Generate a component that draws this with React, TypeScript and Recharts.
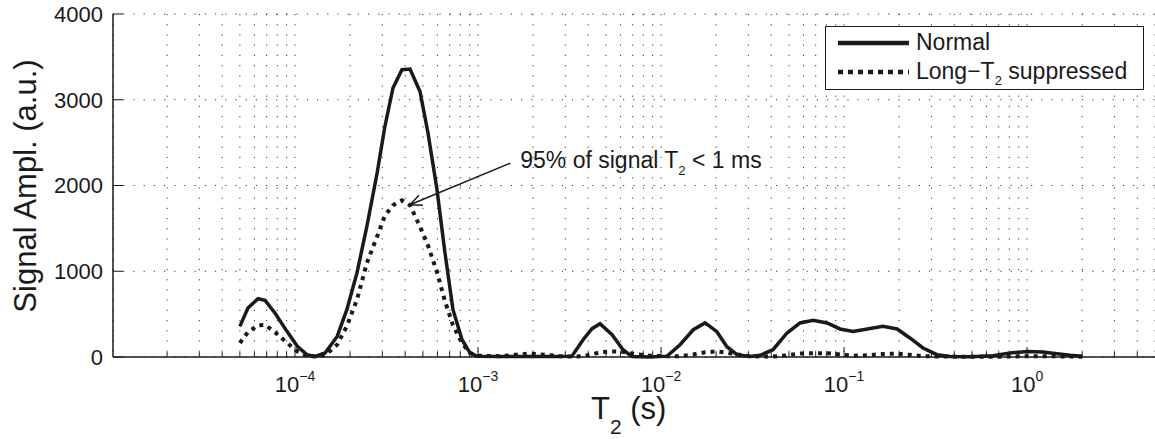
import { LineChart, Line, XAxis, YAxis, CartesianGrid, Legend, ReferenceLine, Label } from "recharts";

// T2 relaxation time (s)
const t2 = [
  5.0e-5, 5.53e-5, 6.28e-5, 6.86e-5, 7.77e-5, 9.04e-5, 1.03e-4, 1.16e-4, 1.29e-4, 1.46e-4,
  1.7e-4, 1.92e-4, 2.18e-4, 2.47e-4, 2.81e-4, 3.1e-4, 3.43e-4, 3.84e-4, 4.25e-4, 4.82e-4,
  5.33e-4, 5.97e-4, 6.6e-4, 7.3e-4, 8.18e-4, 9.04e-4, 9.87e-4, 1.32e-3, 1.92e-3, 2.81e-3,
  3.26e-3, 3.75e-3, 4.2e-3, 4.64e-3, 5.4e-3, 6.2e-3, 6.94e-3, 8.71e-3, 1.08e-2, 1.27e-2,
  1.5e-2, 1.74e-2, 2.02e-2, 2.29e-2, 2.6e-2, 3.06e-2, 3.48e-2, 4.09e-2, 4.88e-2, 5.75e-2,
  6.77e-2, 8.07e-2, 9.51e-2, 0.112, 0.134, 0.163, 0.195, 0.229, 0.27, 0.322,
  0.38, 0.488, 0.652, 0.807, 1.0, 1.22, 1.46, 1.72, 2.0,
];

const normal = [
  357, 571, 680, 660, 513, 299, 124, 27, 7, 47,
  240, 552, 980, 1523, 2146, 2690, 3137, 3350, 3358, 3097,
  2612, 1951, 1213, 552, 202, 47, 10, 5, 5, 5,
  10, 202, 330, 388, 260, 85, 5, 0, 10, 143,
  318, 397, 295, 120, 27, 5, 20, 85, 280, 397,
  427, 397, 327, 299, 327, 357, 327, 222, 105, 27,
  5, 3, 15, 47, 65, 58, 39, 20, 10,
];

const suppressed = [
  163, 290, 370, 375, 290, 165, 65, 15, 5, 20,
  143, 360, 668, 1096, 1406, 1650, 1770, 1826, 1770, 1520,
  1300, 990, 650, 370, 160, 47, 15, 10, 40, 10,
  5, 10, 30, 55, 65, 60, 40, 15, 10, 10,
  30, 55, 65, 50, 30, 10, 5, 5, 20, 40,
  45, 45, 30, 15, 20, 35, 40, 25, 10, 5,
  5, 3, 3, 5, 10, 10, 8, 5, 3,
];

const yTicks = [0, 1000, 2000, 3000, 4000];
const xDomain = [1.013e-5, 5.0];
const xTicks: number[] = [];
for (let e = -5; e <= 0; e++) {
  for (let m = 1; m <= 9; m++) {
    const v = m * Math.pow(10, e);
    if (v > xDomain[0] && v < xDomain[1]) xTicks.push(Number(v.toPrecision(3)));
  }
}

const rows = t2.map((t, i) => ({ t2: t, normal: normal[i], suppressed: suppressed[i] }));

const FONT = "'Liberation Sans', Arial, Helvetica, sans-serif";
const INK = "#1a1a1a";
const PLOT_LEFT = 113;
const PLOT_TOP = 14;
const PLOT_BOTTOM = 357;

const isMajor = (v: number) => Math.abs(Math.log10(v) - Math.round(Math.log10(v))) < 1e-6;

const BottomTick = (props: any) => {
  const { x, payload } = props;
  const v = payload.value;
  const major = isMajor(v);
  const e = Math.round(Math.log10(v));
  return (
    <g>
      <line x1={x} x2={x} y1={PLOT_BOTTOM} y2={PLOT_BOTTOM - (major ? 10 : 5)} stroke={INK} strokeWidth={1} />
      {major && (
        <text x={x} y={392} textAnchor="middle" fontSize={22} fill={INK} fontFamily={FONT}>
          <tspan>10</tspan>
          <tspan fontSize={14} dy={-11}>{e < 0 ? `\u2212${-e}` : `${e}`}</tspan>
        </text>
      )}
    </g>
  );
};

const TopTick = (props: any) => {
  const { x, payload } = props;
  const major = isMajor(payload.value);
  return <line x1={x} x2={x} y1={PLOT_TOP} y2={PLOT_TOP + (major ? 10 : 5)} stroke={INK} strokeWidth={1} />;
};

const LeftTick = (props: any) => {
  const { y, payload } = props;
  return (
    <g>
      <line x1={PLOT_LEFT} x2={PLOT_LEFT + 10} y1={y} y2={y} stroke={INK} strokeWidth={1} />
      <text x={103} y={y} dy="0.36em" textAnchor="end" fontSize={22} fill={INK} fontFamily={FONT}>
        {payload.value}
      </text>
    </g>
  );
};

const ArrowNote = (props: any) => {
  const { x1, y1, x2, y2 } = props;
  const ang = Math.atan2(y2 - y1, x2 - x1);
  const len = 13;
  const spread = 0.42;
  const ax = x2 - len * Math.cos(ang - spread);
  const ay = y2 - len * Math.sin(ang - spread);
  const bx = x2 - len * Math.cos(ang + spread);
  const by = y2 - len * Math.sin(ang + spread);
  return (
    <g>
      <line x1={x1} y1={y1} x2={x2} y2={y2} stroke={INK} strokeWidth={1.5} />
      <polyline points={`${ax},${ay} ${x2},${y2} ${bx},${by}`} fill="none" stroke={INK} strokeWidth={1.5} />
      <text x={x1 + 10} y={y1 + 5} fontSize={23} fill={INK} fontFamily={FONT}>
        <tspan>95% of signal T</tspan>
        <tspan fontSize={13} dy={7}>2</tspan>
        <tspan dy={-7}> &lt; 1 ms</tspan>
      </text>
    </g>
  );
};

const LegendBox = (props: any) => {
  const { payload } = props;
  return (
    <div
      style={{
        border: `1.5px solid ${INK}`,
        background: "#fff",
        width: 319,
        height: 64,
        boxSizing: "border-box",
        paddingTop: 1,
        fontFamily: FONT,
        fontSize: 23,
        color: INK,
      }}
    >
      {(payload || []).map((p: any) => {
        const dotted = p.dataKey === "suppressed";
        const name = String(p.value);
        const parts = name.split("T2");
        return (
          <div key={p.dataKey} style={{ display: "flex", alignItems: "center", height: 29, paddingLeft: 12, whiteSpace: "nowrap" }}>
            <svg width={71} height={10} style={{ display: "block" }}>
              <line x1={0} x2={71} y1={5} y2={5} stroke={INK} strokeWidth={4.5} strokeDasharray={dotted ? "5 5" : undefined} />
            </svg>
            <span style={{ marginLeft: 7 }}>
              {parts.length > 1 ? (
                <>
                  {parts[0]}T<span style={{ fontSize: 13, position: "relative", top: 6 }}>2</span>{parts[1]}
                </>
              ) : (
                name
              )}
            </span>
          </div>
        );
      })}
    </div>
  );
};

export default function App() {
  return (
    <div style={{ position: "absolute", left: 0, top: 0, width: 1155, height: 439, background: "#fff" }}>
      <LineChart width={1155} height={439} data={rows} margin={{ top: PLOT_TOP, right: 0, bottom: 0, left: 0 }}>
        <CartesianGrid xAxisId="b" stroke="#333" strokeDasharray="1.2 9" strokeWidth={1} />
        <XAxis
          xAxisId="b"
          dataKey="t2"
          type="number"
          scale="log"
          domain={xDomain}
          allowDataOverflow
          ticks={xTicks}
          interval={0}
          height={82}
          tickLine={false}
          tick={<BottomTick />}
          axisLine={{ stroke: INK, strokeWidth: 1.5 }}
        >
          <Label
            content={() => (
              <text x={591} y={419} fontSize={31} fill={INK} fontFamily={FONT}>
                <tspan>T</tspan>
                <tspan fontSize={21} dy={15}>2</tspan>
                <tspan dy={-15}> (s)</tspan>
              </text>
            )}
          />
        </XAxis>
        <XAxis
          xAxisId="t"
          orientation="top"
          dataKey="t2"
          type="number"
          scale="log"
          domain={xDomain}
          allowDataOverflow
          ticks={xTicks}
          interval={0}
          height={0}
          tickLine={false}
          tick={<TopTick />}
          axisLine={{ stroke: INK, strokeWidth: 1.5 }}
        />
        <YAxis
          width={PLOT_LEFT}
          domain={[0, 4000]}
          ticks={yTicks}
          interval={0}
          tickLine={false}
          tick={<LeftTick />}
          axisLine={{ stroke: INK, strokeWidth: 1.5 }}
        >
          <Label
            content={() => (
              <text
                x={36}
                y={186}
                transform="rotate(-90 36 186)"
                textAnchor="middle"
                fontSize={31}
                fill={INK}
                fontFamily={FONT}
              >
                Signal Ampl. (a.u.)
              </text>
            )}
          />
        </YAxis>
        <Line
          xAxisId="b"
          type="linear"
          dataKey="normal"
          name="Normal"
          stroke={INK}
          strokeWidth={3.5}
          dot={false}
          isAnimationActive={false}
        />
        <Line
          xAxisId="b"
          type="linear"
          dataKey="suppressed"
          name={"Long\u2212T2 suppressed"}
          stroke={INK}
          strokeWidth={4}
          strokeDasharray="4 5"
          dot={false}
          isAnimationActive={false}
        />
        <ReferenceLine
          xAxisId="b"
          segment={[
            { x: 1.5e-3, y: 2260 },
            { x: 4.25e-4, y: 1775 },
          ]}
          ifOverflow="visible"
          shape={ArrowNote}
        />
        <Legend
          layout="vertical"
          align="center"
          verticalAlign="middle"
          itemSorter="dataKey"
          content={<LegendBox />}
          wrapperStyle={{ left: 825, top: 26, width: 319, height: 64 }}
        />
      </LineChart>
    </div>
  );
}
